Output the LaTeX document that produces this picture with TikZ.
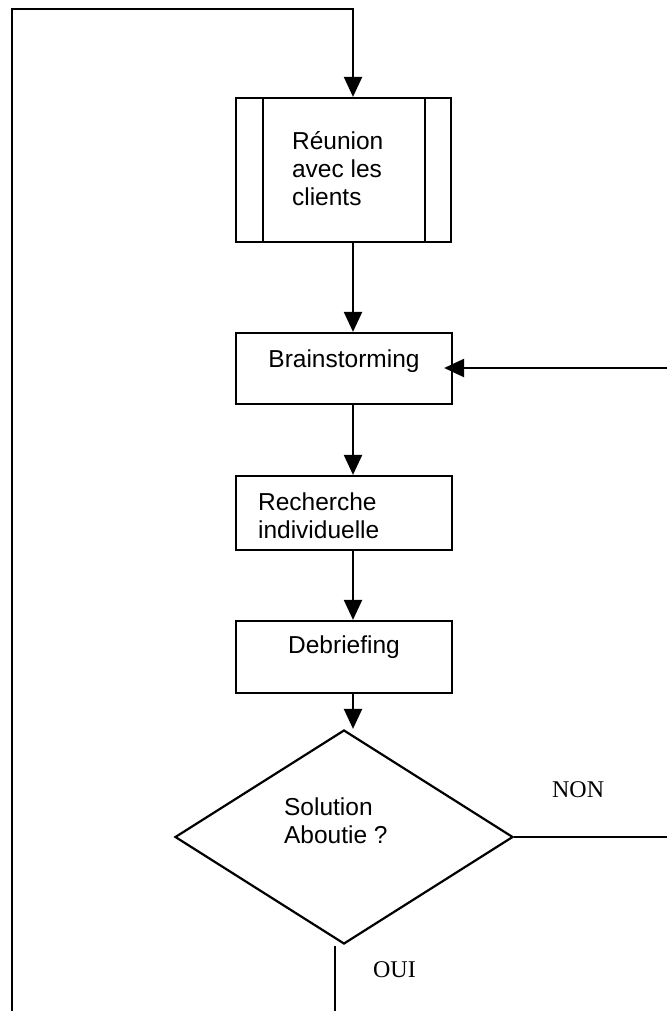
\documentclass[tikz,border=0pt]{standalone}
\usepackage{fontspec}
\setmainfont{Liberation Sans}
\newfontfamily\serifA{Liberation Serif}
\usetikzlibrary{shapes.geometric,arrows.meta}
\begin{document}
\begin{tikzpicture}[x=1pt,y=-1pt,
  line width=2.2pt,
  box/.style={draw,rectangle,inner sep=0pt,minimum width=216pt},
  txt/.style={inner sep=0pt,font=\fontsize{24.5}{27.5}\selectfont},
  lbl/.style={inner sep=0pt,font=\serifA\fontsize{24}{28}\selectfont},
  arr/.style={-{Triangle[length=20pt,width=18pt]}}]
\useasboundingbox (0,0) rectangle (667,1011);
% guide coordinates
\coordinate (xl) at (353,0);
\coordinate (xo) at (335,0);
\coordinate (tl) at (12,9);
\coordinate (lb) at (12,1011);
\coordinate (rb) at (667,368);
\coordinate (rn) at (667,837);
\coordinate (ob) at (335,1011);
% boxes
\node[box,minimum width=215pt,minimum height=144pt] (reunion) at (343.5,170) {};
\draw (263,98) -- (263,242) (425,98) -- (425,242);
\node[box,minimum height=71pt] (brain) at (344,368.5) {};
\node[box,minimum height=74pt] (rech) at (344,513) {};
\node[box,minimum height=72pt] (debrief) at (344,657) {};
\node[draw,diamond,inner sep=0pt,minimum width=338pt,minimum height=214pt] (dia) at (344,837) {};
% texts
\node[txt,anchor=base west] (t1) at (291,150) {Réunion};
\node[txt,anchor=base west] (t2) at (291,178) {avec les};
\node[txt,anchor=base west] (t3) at (291,205) {clients};
\node[txt,anchor=base] (t4) at (344,367) {Brainstorming};
\node[txt,anchor=base west] (t5) at (257,510) {Recherche};
\node[txt,anchor=base west] (t6) at (257,538) {individuelle};
\node[txt,anchor=base] (t7) at (344,653) {Debriefing};
\node[txt,anchor=base west] (t8) at (283,815) {Solution};
\node[txt,anchor=base west] (t9) at (283,843) {Aboutie ?};
\node[lbl,anchor=base west] (non) at (551,797) {NON};
\node[lbl,anchor=base west] (oui) at (372,977) {OUI};
% connectors
\draw[arr] (lb) -- (tl) -- (tl -| xl) -- (reunion.north -| xl);
\draw[arr] (reunion.south -| xl) -- (brain.north -| xl);
\draw[arr] (brain.south -| xl) -- (rech.north -| xl);
\draw[arr] (rech.south -| xl) -- (debrief.north -| xl);
\draw[arr] (debrief.south -| xl) -- (dia.north -| xl);
\draw[arr,shorten >=-9pt] (rb) -- (brain.east |- rb);
\draw (dia.east) -- (rn);
\draw (dia.south -| xo) ++(0,1) -- (ob);
\end{tikzpicture}
\end{document}
